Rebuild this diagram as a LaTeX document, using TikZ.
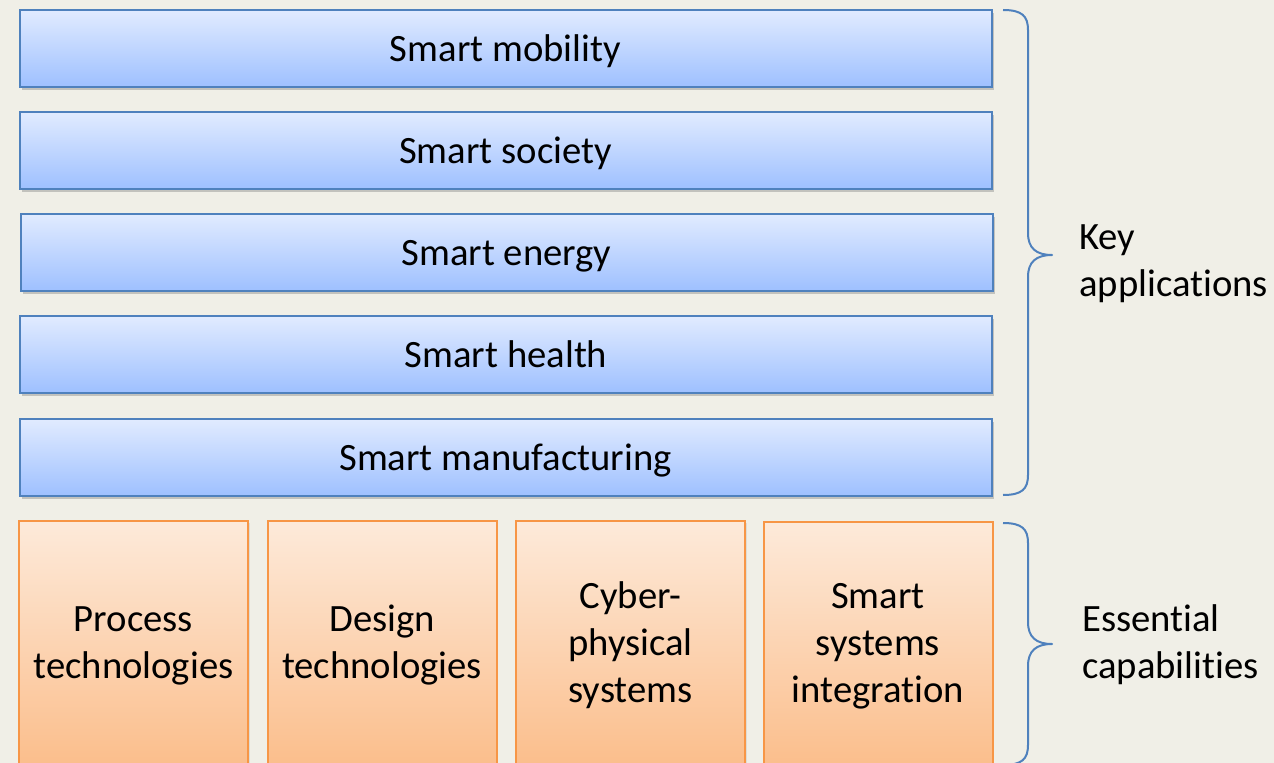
\documentclass[tikz,border=0pt]{standalone}
\usepackage{fontspec}
\setmainfont{Carlito}[Ligatures=NoCommon]
\usetikzlibrary{shadows}
\definecolor{bg}{RGB}{240,239,231}
\definecolor{blueedge}{RGB}{79,129,189}
\definecolor{bluetop}{RGB}{225,235,255}
\definecolor{bluebot}{RGB}{158,192,255}
\definecolor{orangeedge}{RGB}{247,150,70}
\definecolor{orangetop}{RGB}{253,234,218}
\definecolor{orangebot}{RGB}{251,189,138}
\tikzset{
  bigfont/.style={font=\fontsize{29}{35.25}\selectfont},
  bluebox/.style={draw=blueedge, line width=1.5pt, top color=bluetop, bottom color=bluebot,
    minimum width=729pt, minimum height=57.75pt, inner sep=0pt, bigfont,
    text height=21pt, text depth=1pt,
    drop shadow={shadow xshift=1.8pt, shadow yshift=-2.2pt, fill=black!45, opacity=0.45}},
  orangebox/.style={draw=orangeedge, line width=1.5pt, top color=orangetop, bottom color=orangebot,
    minimum width=171.75pt, minimum height=186.75pt, inner sep=0pt, align=center, bigfont,
    drop shadow={shadow xshift=1.2pt, shadow yshift=-1.2pt, fill=black!30, opacity=0.3}},
  bracestyle/.style={draw=blueedge, line width=1.5pt, line join=round},
  lbl/.style={bigfont, anchor=west, align=left, inner sep=0pt}
}
\begin{document}
\begin{tikzpicture}[x=0.75pt,y=-0.75pt]
\useasboundingbox (0,0) rectangle (1274,763);
\fill[bg] (0,0) rectangle (1274,763);
\begin{scope}
\clip (0,0) rectangle (1274,763);
\node[bluebox] (mob) at (505.5,48.5) {Smart mobility};
\node[bluebox] (soc) at (505.5,150.5) {Smart society};
\node[bluebox] (ene) at (506.5,252.5) {Smart energy};
\node[bluebox] (hea) at (506,354.5) {Smart health};
\node[bluebox] (man) at (505.5,457.5) {Smart manufacturing};

\node[orangebox] (pro) at (133.5,645.5) {Process\\technologies};
\node[orangebox] (des) at (382,645.5) {Design\\technologies};
\node[orangebox] (cps) at (630.5,645.5) {Cyber-\\physical\\systems};
\node[orangebox] (ssi) at (878,646.5) {Smart\\systems\\integration};

\coordinate (b1t) at (1003,10);
\coordinate (b1m) at (1052,255);
\coordinate (b1b) at (1003,495);
\draw[bracestyle] (b1t) .. controls (1022,10) and (1028,16) .. (1028,30) -- (1028,233)
  .. controls (1028,248) and (1036,255) .. (b1m)
  .. controls (1036,255) and (1028,262) .. (1028,277) -- (1028,475)
  .. controls (1028,489) and (1022,495) .. (b1b);

\coordinate (b2t) at (1003,523);
\coordinate (b2m) at (1052,644);
\coordinate (b2b) at (1003,765);
\draw[bracestyle] (b2t) .. controls (1022,523) and (1028,529) .. (1028,543) -- (1028,622)
  .. controls (1028,637) and (1036,644) .. (b2m)
  .. controls (1036,644) and (1028,651) .. (1028,666) -- (1028,745)
  .. controls (1028,759) and (1022,765) .. (b2b);

\node[lbl] (ka) at (1079,264) {Key\\applications};
\node[lbl] (ec) at (1082,645) {Essential\\capabilities};
\end{scope}
\end{tikzpicture}
\end{document}
